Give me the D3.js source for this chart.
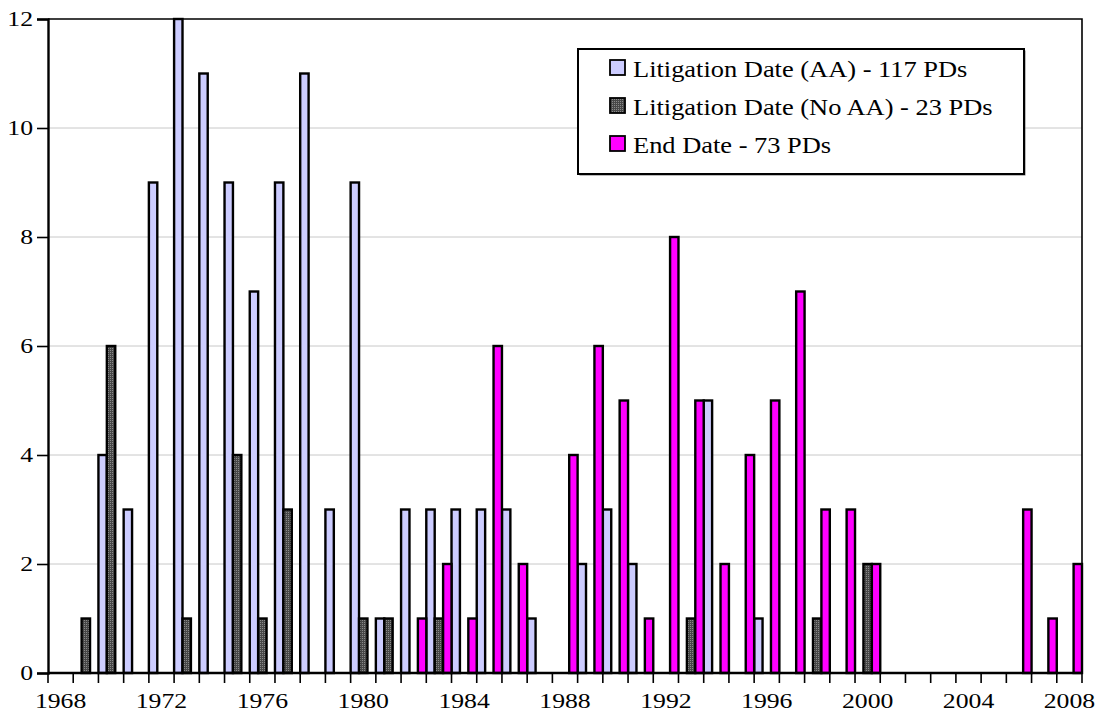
<!DOCTYPE html>
<html>
<head>
<meta charset="utf-8">
<script src="https://cdn.jsdelivr.net/npm/d3@7"></script>
<style>
  html, body { margin: 0; padding: 0; background: #fff; }
  svg { display: block; }
  text { font-family: "Liberation Serif", "Times New Roman", serif; fill: #000; }
</style>
</head>
<body>
<svg width="1100" height="715"></svg>
<script>
// one entry per year, 1968..2008
const years = [1968, 1969, 1970, 1971, 1972, 1973, 1974, 1975, 1976, 1977,
    1978, 1979, 1980, 1981, 1982, 1983, 1984, 1985, 1986, 1987,
    1988, 1989, 1990, 1991, 1992, 1993, 1994, 1995, 1996, 1997,
    1998, 1999, 2000, 2001, 2002, 2003, 2004, 2005, 2006, 2007, 2008];

const litigationAA = [0, 0, 4, 3, 9, 12, 11, 9, 7, 9,
    11, 3, 9, 1, 3, 3, 3, 3, 3, 1,
    0, 2, 3, 2, 0, 0, 5, 0, 1, 0,
    0, 0, 0, 0, 0, 0, 0, 0, 0, 0, 0];

const litigationNoAA = [0, 1, 6, 0, 0, 1, 0, 4, 1, 3,
    0, 0, 1, 1, 0, 1, 0, 0, 0, 0,
    0, 0, 0, 0, 0, 1, 0, 0, 0, 0,
    1, 0, 2, 0, 0, 0, 0, 0, 0, 0, 0];

const endDate = [0, 0, 0, 0, 0, 0, 0, 0, 0, 0,
    0, 0, 0, 0, 1, 2, 1, 6, 2, 0,
    4, 6, 5, 1, 8, 5, 2, 4, 5, 7,
    3, 3, 2, 0, 0, 0, 0, 0, 3, 1, 2];

const seriesNames = ["Litigation Date (AA) - 117 PDs",
    "Litigation Date (No AA) - 23 PDs",
    "End Date - 73 PDs"];

const yTicks = [0, 2, 4, 6, 8, 10, 12];
const xLabelYears = [1968, 1972, 1976, 1980, 1984, 1988, 1992, 1996, 2000, 2004, 2008];

const FONT = 22;
const STRETCH = 1.17;   // the source font runs wider than Times

const svg = d3.select("svg");
const plotL = 48, plotR = 1082, plotT = 19, plotB = 673;

const defs = svg.append("defs");
const pat = defs.append("pattern")
    .attr("id", "dots")
    .attr("width", 2).attr("height", 2)
    .attr("patternUnits", "userSpaceOnUse");
pat.append("rect").attr("width", 2).attr("height", 2).attr("fill", "#474747");
pat.append("rect").attr("width", 1).attr("height", 1).attr("fill", "#8a8a8a");

const fills = ["#ccccff", "url(#dots)", "#ff00ff"];

const x = d3.scaleBand().domain(years).range([plotL, plotR]).padding(0);
const xSub = d3.scaleBand().domain([0, 1, 2]).range([0, x.bandwidth()]).padding(0);
const y = d3.scaleLinear().domain([0, 12]).range([plotB, plotT]);

// gridlines
svg.append("g")
    .selectAll("line")
    .data(yTicks.filter(d => d > 0 && d < 12))
    .enter()
    .append("line")
    .attr("x1", plotL).attr("x2", plotR)
    .attr("y1", d => y(d)).attr("y2", d => y(d))
    .attr("stroke", "#c8c8c8")
    .attr("stroke-width", 1);

// frame: top and right
svg.append("path")
    .attr("d", `M${plotL},${plotT}H${plotR}V${plotB}`)
    .attr("fill", "none")
    .attr("stroke", "#000")
    .attr("stroke-width", 1.6);

// bars
const allSeries = [litigationAA, litigationNoAA, endDate];
const barData = [];
allSeries.forEach((vals, s) => {
    vals.forEach((v, i) => {
        if (v > 0) barData.push({ year: years[i], s: s, v: v });
    });
});

svg.append("g")
    .selectAll("rect")
    .data(barData)
    .enter()
    .append("rect")
    .attr("x", d => x(d.year) + xSub(d.s))
    .attr("y", d => y(d.v))
    .attr("width", xSub.bandwidth())
    .attr("height", d => y(0) - y(d.v))
    .attr("fill", d => fills[d.s])
    .attr("stroke", "#000")
    .attr("stroke-width", 2.4);

// y axis
const yAxis = svg.append("g")
    .attr("transform", `translate(${plotL},0)`)
    .call(d3.axisLeft(y).tickValues(yTicks).tickSize(11).tickFormat(d3.format("d")));
yAxis.select(".domain").attr("stroke-width", 2.4);
yAxis.selectAll(".tick line").attr("stroke-width", 1.6);
yAxis.selectAll("text")
    .attr("font-size", FONT)
    .attr("font-family", "Liberation Serif, serif")
    .attr("x", -15 / STRETCH)
    .attr("dy", "0.3em")
    .attr("transform", `scale(${STRETCH},1)`);

// x axis: boundary ticks
const bounds = years.map(d => x(d)).concat([plotR]);
svg.append("g")
    .selectAll("line")
    .data(bounds)
    .enter()
    .append("line")
    .attr("x1", d => d).attr("x2", d => d)
    .attr("y1", plotB).attr("y2", plotB + 10)
    .attr("stroke", "#000")
    .attr("stroke-width", 1.6);

const xAxis = svg.append("g")
    .attr("transform", `translate(0,${plotB})`)
    .call(d3.axisBottom(x).tickValues(xLabelYears).tickSize(0).tickPadding(0));
xAxis.select(".domain").attr("stroke-width", 2.6).attr("d", `M${plotL},0H${plotR}`);
xAxis.selectAll("text")
    .attr("font-size", FONT)
    .attr("font-family", "Liberation Serif, serif")
    .attr("y", 35)
    .attr("dy", 0)
    .attr("transform", `scale(${STRETCH},1)`)
    .attr("x", 0);

// legend
const lg = svg.append("g").attr("transform", "translate(578,49)");
lg.append("rect")
    .attr("x", 1.5).attr("y", 1.5)
    .attr("width", 446).attr("height", 125)
    .attr("fill", "#777");
lg.append("rect")
    .attr("width", 446).attr("height", 125)
    .attr("fill", "#fff")
    .attr("stroke", "#000")
    .attr("stroke-width", 2);

seriesNames.forEach((name, i) => {
    const row = lg.append("g").attr("transform", `translate(32,${28 + i * 38})`);
    row.append("rect")
        .attr("x", 0).attr("y", -17)
        .attr("width", 15).attr("height", 15)
        .attr("fill", fills[i])
        .attr("stroke", "#000")
        .attr("stroke-width", 1.8);
    row.append("text")
        .attr("transform", `translate(23,0) scale(${STRETCH},1)`)
        .attr("font-size", 22.6)
        .text(name);
});
</script>
</body>
</html>
